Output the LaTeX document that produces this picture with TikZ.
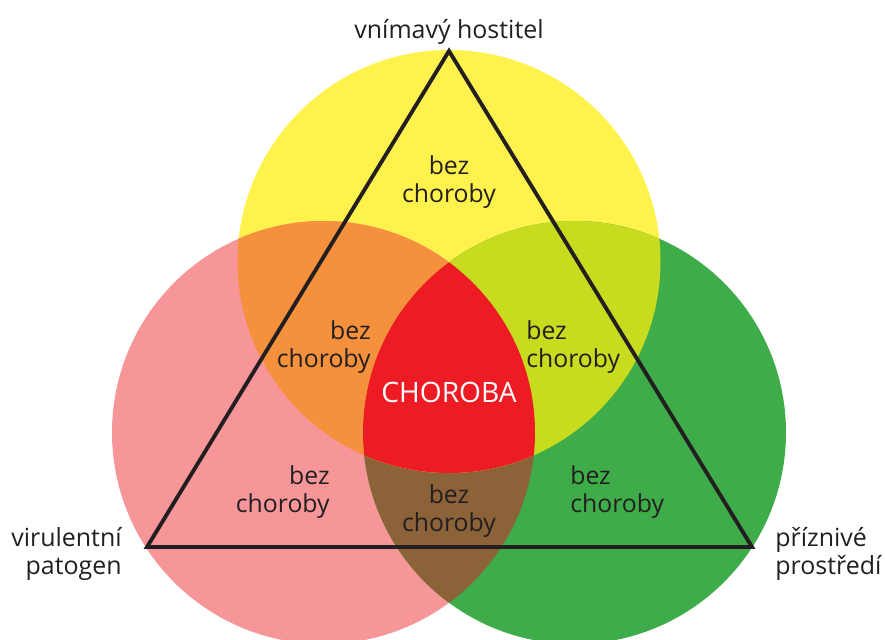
\documentclass[tikz,border=0pt]{standalone}
\usepackage{fontspec}
\setmainfont{Open Sans}
\definecolor{ink}{RGB}{35,31,32}
\definecolor{hostyellow}{RGB}{255,242,76}
\definecolor{patpink}{RGB}{246,150,153}
\definecolor{envgreen}{RGB}{62,173,73}
\definecolor{hostpat}{RGB}{245,145,60}
\definecolor{hostenv}{RGB}{199,220,30}
\definecolor{patenv}{RGB}{140,98,57}
\definecolor{disease}{RGB}{237,28,36}
\begin{document}
\begin{tikzpicture}[x=0.02cm, y=-0.02cm,
  txt/.style={font=\fontsize{14.1}{15.6}\selectfont, text=ink, inner sep=0pt},
  lbl/.style={font=\fontsize{14.2}{15.6}\selectfont, text=ink, inner sep=0pt},
  big/.style={font=\fontsize{16}{18}\selectfont, text=white, inner sep=0pt},
  tri/.style={draw=ink, line width=2.2pt, line join=miter}
]
\useasboundingbox (0,0) rectangle (885,639);
\coordinate (host) at (449,261.5);
\coordinate (pat) at (323.5,432.5);
\coordinate (env) at (574.5,432.5);

% circles and overlaps
\fill[hostyellow] (host) circle[radius=211.5];
\fill[patpink] (pat) circle[radius=211.5];
\fill[envgreen] (env) circle[radius=211.5];
\begin{scope}
  \clip (pat) circle[radius=211.5];
  \fill[patenv] (env) circle[radius=211.5];
\end{scope}
\begin{scope}
  \clip (host) circle[radius=211.5];
  \fill[hostpat] (pat) circle[radius=211.5];
  \fill[hostenv] (env) circle[radius=211.5];
  \clip (pat) circle[radius=211.5];
  \fill[disease] (env) circle[radius=211.5];
\end{scope}

% triangle
\coordinate (apex) at (449,51);
\coordinate (left) at (147,547);
\coordinate (right) at (752,547);
\draw[tri] (apex) -- (left) -- (right) -- cycle;

% region texts
\node[txt, align=center] (top) at (449,182) {bez\\choroby};
\node[txt, align=right, anchor=east] (hp) at (371,347) {bez\\choroby};
\node[txt, align=left, anchor=west] (he) at (526,347) {bez\\choroby};
\node[big] (all) at (449,392) {CHOROBA};
\node[txt, align=right, anchor=east] (p) at (330,492) {bez\\choroby};
\node[txt, align=center] (pe) at (449,511) {bez\\choroby};
\node[txt, align=left, anchor=west] (e) at (570,492) {bez\\choroby};

% corner labels
\node[lbl] (hostlbl) at (449,32) {vnímavý hostitel};
\node[lbl, align=right, anchor=east] (patlbl) at (122,554) {virulentní\\patogen};
\node[lbl, align=left, anchor=west] (envlbl) at (775,554) {příznivé\\prostředí};
\end{tikzpicture}
\end{document}
